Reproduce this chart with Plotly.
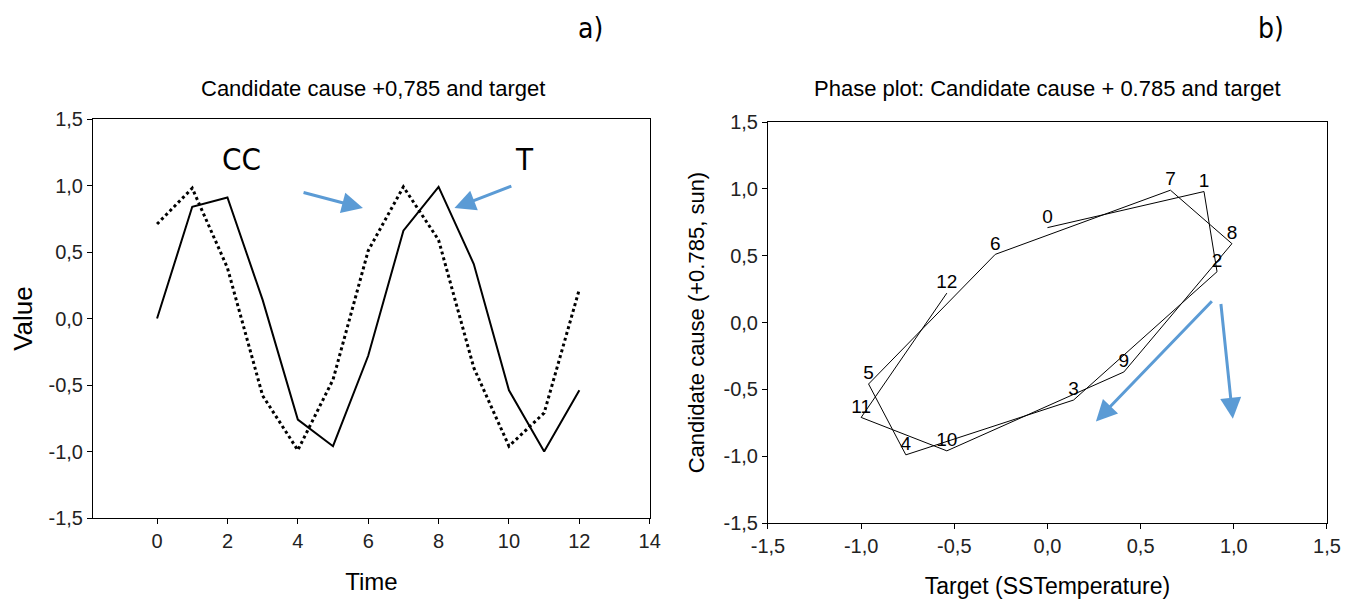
import plotly.graph_objects as go

# ---- data ----
time = [0, 1, 2, 3, 4, 5, 6, 7, 8, 9, 10, 11, 12]
target = [0.0, 0.84, 0.91, 0.14, -0.76, -0.96, -0.28, 0.66, 0.99, 0.41, -0.54, -1.0, -0.54]
cand_cause = [0.71, 0.98, 0.38, -0.58, -0.99, -0.46, 0.51, 0.99, 0.59, -0.37, -0.96, -0.71, 0.22]
point_labels = [str(t) for t in time]

val_ticks = [-1.5, -1.0, -0.5, 0.0, 0.5, 1.0, 1.5]
val_ticktext = ["-1,5", "-1,0", "-0,5", "0,0", "0,5", "1,0", "1,5"]
time_ticks = [0, 2, 4, 6, 8, 10, 12, 14]
time_ticktext = ["0", "2", "4", "6", "8", "10", "12", "14"]

FONT = "Liberation Sans, Arial, sans-serif"
NARROW = "DejaVu Sans Condensed, Liberation Sans Narrow, sans-serif"
BLUE = "#5B9BD5"

fig = go.Figure()

# left: time series
fig.add_trace(go.Scatter(x=time, y=cand_cause, mode="lines",
                         line=dict(color="black", width=3, dash="dot"),
                         xaxis="x", yaxis="y", showlegend=False))
fig.add_trace(go.Scatter(x=time, y=target, mode="lines",
                         line=dict(color="black", width=2),
                         xaxis="x", yaxis="y", showlegend=False))

# right: phase plot
fig.add_trace(go.Scatter(x=target, y=cand_cause, mode="lines+text",
                         text=point_labels, textposition="top center",
                         textfont=dict(family=FONT, size=19, color="black"),
                         line=dict(color="black", width=1),
                         xaxis="x2", yaxis="y2", showlegend=False))

axis_common = dict(showline=True, linecolor="black", linewidth=1, mirror=True,
                   ticks="outside", ticklen=5, tickcolor="black",
                   showgrid=False, zeroline=False, automargin=False,
                   tickfont=dict(family=FONT, size=20, color="#222"))

fig.update_layout(
    width=1348, height=605,
    margin=dict(l=0, r=0, t=0, b=0),
    plot_bgcolor="white", paper_bgcolor="white",
    font=dict(family=FONT),
    xaxis=dict(domain=[0.069, 0.482], range=[-1.82, 14], tickvals=time_ticks,
               ticktext=time_ticktext, anchor="y",
               title=dict(text="Time", font=dict(family=FONT, size=24, color="black"), standoff=22),
               **axis_common),
    yaxis=dict(domain=[0.1438, 0.8033], range=[-1.5, 1.5], tickvals=val_ticks,
               ticktext=val_ticktext, anchor="x",
               title=dict(text="Value", font=dict(family=FONT, size=26, color="black"), standoff=8),
               **axis_common),
    xaxis2=dict(domain=[0.5697, 0.9844], range=[-1.5, 1.5], tickvals=val_ticks,
                ticktext=val_ticktext, anchor="y2",
                title=dict(text="Target (SSTemperature)", font=dict(family=FONT, size=23, color="black"), standoff=21),
                **axis_common),
    yaxis2=dict(domain=[0.1355, 0.7983], range=[-1.5, 1.5], tickvals=val_ticks,
                ticktext=val_ticktext, anchor="x2",
                title=dict(text="Candidate cause (+0.785, sun)", font=dict(family=FONT, size=22, color="black"), standoff=12),
                **axis_common),
)

def paper_text(txt, px, py, size, family=FONT):
    return dict(text=txt, x=px / 1348, y=1 - py / 605, xref="paper", yref="paper",
                xanchor="center", yanchor="middle", showarrow=False,
                font=dict(family=family, size=size, color="black"))

annotations = [
    paper_text("Candidate cause +0,785 and target", 373, 88, 22),
    paper_text("Phase plot: Candidate cause + 0.785 and target", 1047, 88, 22),
    paper_text("a)", 590, 28, 28, NARROW),
    paper_text("b)", 1271, 28, 28, NARROW),
    dict(text="CC", x=2.4, y=1.2, xref="x", yref="y", showarrow=False, xanchor="center", yanchor="middle",
         font=dict(family=NARROW, size=31, color="black")),
    dict(text="T", x=10.45, y=1.2, xref="x", yref="y", showarrow=False, xanchor="center", yanchor="middle",
         font=dict(family=NARROW, size=31, color="black")),
]

arrows = [
    # (xref, yref, tail_x, tail_y, head_x, head_y)
    ("x", "y", 4.12, 0.95, 5.85, 0.83),
    ("x", "y", 10.11, 1.0, 8.45, 0.83),
    ("x2", "y2", 0.89, 0.17, 0.26, -0.74),
    ("x2", "y2", 0.93, 0.15, 0.995, -0.72),
]
for xr, yr, tx, ty, hx, hy in arrows:
    annotations.append(dict(x=hx, y=hy, ax=tx, ay=ty, xref=xr, yref=yr, axref=xr, ayref=yr,
                            text="", showarrow=True, arrowhead=2, arrowsize=1.4,
                            arrowwidth=3, arrowcolor=BLUE))

fig.update_layout(annotations=annotations)

fig.write_html("out.html")
